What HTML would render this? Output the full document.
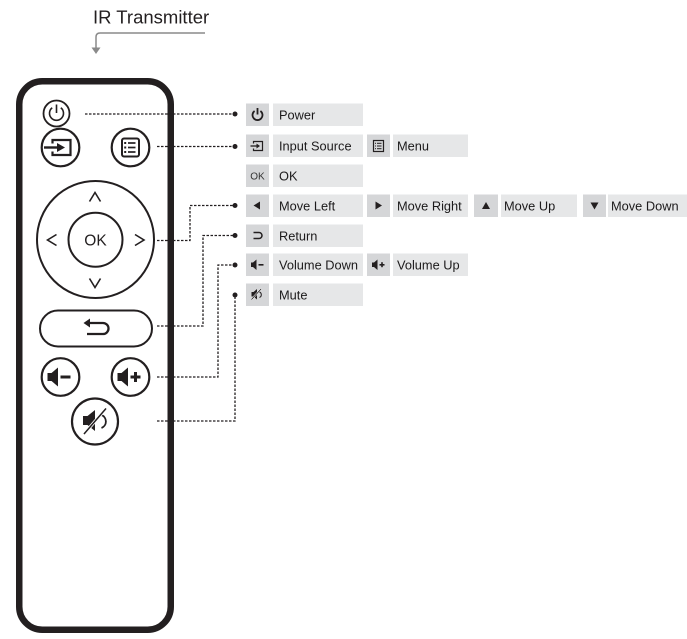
<!DOCTYPE html>
<html>
<head>
<meta charset="utf-8">
<style>
  html,body{margin:0;padding:0;background:#fff;}
  svg{display:block;font-family:"Liberation Sans",Arial,sans-serif;}
  text{font-family:"Liberation Sans",Arial,sans-serif;}
</style>
</head>
<body>
<svg width="687" height="639" viewBox="0 0 687 639" xmlns="http://www.w3.org/2000/svg" font-family="Liberation Sans, Arial, sans-serif">
  <!-- IR Transmitter label -->
  <text x="93" y="23.5" font-size="18.5" fill="#231f20">IR Transmitter</text>
  <path d="M205,33 H100 Q96,33 96,37 V48" fill="none" stroke="#8a8a8a" stroke-width="1.5"/>
  <polygon points="91.5,47.5 100.5,47.5 96,54" fill="#8a8a8a"/>

  <!-- Remote body -->
  <rect x="19.25" y="81.25" width="151.5" height="548.5" rx="23" ry="23" fill="#fff" stroke="#231f20" stroke-width="6.5"/>

  <g stroke="#231f20" fill="none">
    <!-- Power button -->
    <circle cx="56.5" cy="113.5" r="13" stroke-width="1.8"/>
    <path d="M52.2,107.8 A7,7 0 1 0 60.8,107.8" stroke-width="1.6"/>
    <line x1="56.5" y1="104.5" x2="56.5" y2="113" stroke-width="1.6"/>

    <!-- Input button -->
    <circle cx="60.5" cy="147.5" r="18.8" stroke-width="2.2"/>
    <path d="M52.5,143.5 V140 H70.5 V155 H52.5 V151.5" stroke-width="2.2"/>
    <line x1="44" y1="147.5" x2="59" y2="147.5" stroke-width="2.4"/>

    <!-- Menu button -->
    <circle cx="130.5" cy="147.5" r="18.8" stroke-width="2.2"/>
    <rect x="122" y="138.5" width="17" height="18" rx="2" stroke-width="2"/>
    <line x1="128" y1="143" x2="135.5" y2="143" stroke-width="1.7"/>
    <line x1="128" y1="147.5" x2="135.5" y2="147.5" stroke-width="1.7"/>
    <line x1="128" y1="152" x2="135.5" y2="152" stroke-width="1.7"/>

    <!-- D-pad -->
    <circle cx="95.5" cy="239.5" r="58.5" stroke-width="2"/>
    <circle cx="95.5" cy="239.7" r="27" stroke-width="2"/>
    <polyline points="89.5,201.5 95,192.5 100.5,201.5" stroke-width="1.6"/>
    <polyline points="89.5,278.5 95,287.5 100.5,278.5" stroke-width="1.6"/>
    <polyline points="56.5,234.5 47.5,240 56.5,245.5" stroke-width="1.6"/>
    <polyline points="135,234.5 144,240 135,245.5" stroke-width="1.6"/>

    <!-- Return pill -->
    <rect x="40" y="310.5" width="112" height="36" rx="18" ry="18" stroke-width="2"/>
    <path d="M90,323 H103 A5.5,5.5 0 0 1 103,334 H87" stroke-width="2.3"/>

    <!-- Volume buttons -->
    <circle cx="60.5" cy="377" r="18.8" stroke-width="2.2"/>
    <circle cx="130.5" cy="377" r="18.8" stroke-width="2.2"/>
    <!-- Mute -->
    <circle cx="95" cy="421.5" r="23" stroke-width="2.2"/>
    <line x1="84" y1="434" x2="106" y2="408.5" stroke-width="1.6"/>
    <path d="M101.5,415 A7,7 0 0 1 101.5,428" stroke-width="1.8"/>
  </g>
  <g fill="#231f20">
    <polygon points="57,143 65,147.5 57,152"/>
    <rect x="124.2" y="142" width="2" height="2"/>
    <rect x="124.2" y="146.5" width="2" height="2"/>
    <rect x="124.2" y="151" width="2" height="2"/>
    <text x="95.5" y="245.5" font-size="15.5" text-anchor="middle">OK</text>
    <polygon points="83.5,323 90,318.5 90,327.5"/>
    <!-- vol - -->
    <rect x="47.5" y="373" width="4.5" height="8"/>
    <polygon points="51.5,373 58,367.5 58,386.5 51.5,381"/>
    <rect x="60.5" y="375.5" width="10" height="3"/>
    <!-- vol + -->
    <rect x="117.5" y="373" width="4.5" height="8"/>
    <polygon points="121.5,373 128,367.5 128,386.5 121.5,381"/>
    <rect x="130.5" y="375.5" width="10" height="3"/>
    <rect x="134" y="372" width="3" height="10"/>
    <!-- mute speaker -->
    <rect x="83" y="416" width="5" height="9"/>
    <polygon points="87.5,416 95,410 95,431 87.5,425"/>
  </g>
  <line x1="84" y1="434" x2="106" y2="408.5" stroke="#fff" stroke-width="3.2"/>
  <line x1="84" y1="434" x2="106" y2="408.5" stroke="#231f20" stroke-width="1.5"/>

  <!-- Dashed connectors -->
  <g fill="none" stroke="#231f20" stroke-width="1.3" stroke-dasharray="2.5 1.5">
    <path d="M85,114 H235"/>
    <path d="M157,146.5 H235"/>
    <path d="M157,240.5 H190 V205.5 H235"/>
    <path d="M157,326 H203 V235.5 H235"/>
    <path d="M157,377 H218 V265 H235"/>
    <path d="M157,421 H235 V295"/>
  </g>
  <g fill="#231f20">
    <circle cx="235" cy="114" r="2.5"/>
    <circle cx="235" cy="146.5" r="2.5"/>
    <circle cx="235" cy="205.5" r="2.5"/>
    <circle cx="235" cy="235.5" r="2.5"/>
    <circle cx="235" cy="265" r="2.5"/>
    <circle cx="235" cy="295" r="2.5"/>
  </g>

  <!-- Label boxes -->
  <g>
    <rect x="246" y="103.5" width="23" height="22.5" fill="#d5d6d8"/>
    <rect x="273" y="103.5" width="90" height="22.5" fill="#e6e7e8"/>
    <rect x="246" y="134.5" width="23" height="22.5" fill="#d5d6d8"/>
    <rect x="273" y="134.5" width="90" height="22.5" fill="#e6e7e8"/>
    <rect x="367" y="134.5" width="23" height="22.5" fill="#d5d6d8"/>
    <rect x="393" y="134.5" width="75" height="22.5" fill="#e6e7e8"/>
    <rect x="246" y="164.5" width="23" height="22.5" fill="#d5d6d8"/>
    <rect x="273" y="164.5" width="90" height="22.5" fill="#e6e7e8"/>
    <rect x="246" y="194.5" width="23" height="22.5" fill="#d5d6d8"/>
    <rect x="273" y="194.5" width="90" height="22.5" fill="#e6e7e8"/>
    <rect x="367" y="194.5" width="23" height="22.5" fill="#d5d6d8"/>
    <rect x="393" y="194.5" width="75" height="22.5" fill="#e6e7e8"/>
    <rect x="474" y="194.5" width="24" height="22.5" fill="#d5d6d8"/>
    <rect x="501" y="194.5" width="76" height="22.5" fill="#e6e7e8"/>
    <rect x="583" y="194.5" width="23" height="22.5" fill="#d5d6d8"/>
    <rect x="608" y="194.5" width="79" height="22.5" fill="#e6e7e8"/>
    <rect x="246" y="224.5" width="23" height="22.5" fill="#d5d6d8"/>
    <rect x="273" y="224.5" width="90" height="22.5" fill="#e6e7e8"/>
    <rect x="246" y="253.5" width="23" height="22.5" fill="#d5d6d8"/>
    <rect x="273" y="253.5" width="90" height="22.5" fill="#e6e7e8"/>
    <rect x="367" y="253.5" width="23" height="22.5" fill="#d5d6d8"/>
    <rect x="393" y="253.5" width="75" height="22.5" fill="#e6e7e8"/>
    <rect x="246" y="283.5" width="23" height="22.5" fill="#d5d6d8"/>
    <rect x="273" y="283.5" width="90" height="22.5" fill="#e6e7e8"/>
  </g>

  <!-- Label texts -->
  <g font-size="12.8" fill="#1c1a1b">
    <text x="279" y="119.5">Power</text>
    <text x="279" y="150.5">Input Source</text>
    <text x="397" y="150.5">Menu</text>
    <text x="279" y="180.5">OK</text>
    <text x="279" y="210.5">Move Left</text>
    <text x="397" y="210.5">Move Right</text>
    <text x="504" y="210.5">Move Up</text>
    <text x="611" y="210.5">Move Down</text>
    <text x="279" y="240.5">Return</text>
    <text x="279" y="269.5">Volume Down</text>
    <text x="397" y="269.5">Volume Up</text>
    <text x="279" y="299.5">Mute</text>
  </g>

  <!-- Label icons -->
  <g stroke="#231f20" fill="none">
    <path d="M254.6,111 A5,5 0 1 0 260.4,111" stroke-width="1.8"/>
    <line x1="257.5" y1="108" x2="257.5" y2="114.5" stroke-width="1.8"/>
    <path d="M253.5,143.5 V141.5 H262.5 V150.5 H253.5 V148.5" stroke-width="1.2"/>
    <line x1="250.5" y1="146" x2="257" y2="146" stroke-width="1.3"/>
    <rect x="373.5" y="140.5" width="10" height="11" stroke-width="1.2"/>
    <line x1="377" y1="143.3" x2="381.5" y2="143.3" stroke-width="1"/>
    <line x1="377" y1="146" x2="381.5" y2="146" stroke-width="1"/>
    <line x1="377" y1="148.7" x2="381.5" y2="148.7" stroke-width="1"/>
    <path d="M253.5,232.5 H259 A3,3 0 0 1 259,238.5 H253.5" stroke-width="1.5"/>
  </g>
  <g fill="#231f20">
    <polygon points="256.5,143.5 260,146 256.5,148.5"/>
    <rect x="375" y="142.8" width="1" height="1"/>
    <rect x="375" y="145.5" width="1" height="1"/>
    <rect x="375" y="148.2" width="1" height="1"/>
    <text x="257.5" y="179.5" font-size="10" fill="#333" text-anchor="middle">OK</text>
    <polygon points="253.5,205.5 260,201.5 260,209.5"/>
    <polygon points="382,205.5 375.5,201.5 375.5,209.5"/>
    <polygon points="486,202 482,209 490,209"/>
    <polygon points="594.5,209.5 590.5,202.5 598.5,202.5"/>
    <rect x="251" y="262.5" width="2.5" height="4.5"/>
    <polygon points="253,262.5 256.5,259.5 256.5,270 253,267"/>
    <rect x="258.5" y="264" width="5" height="1.6"/>
    <rect x="372" y="262.5" width="2.5" height="4.5"/>
    <polygon points="374,262.5 377.5,259.5 377.5,270 374,267"/>
    <rect x="379.5" y="264" width="5" height="1.6"/>
    <rect x="381.2" y="262.2" width="1.6" height="5"/>
    <rect x="251.5" y="292" width="2.5" height="4.5"/>
    <polygon points="253.5,292 257,289 257,299.5 253.5,296.5"/>
  </g>
  <line x1="251.5" y1="299.5" x2="261" y2="289" stroke="#fff" stroke-width="1.8"/>
  <line x1="251.5" y1="299.5" x2="261" y2="289" stroke="#231f20" stroke-width="0.9"/>
  <path d="M259.5,292 A3,3 0 0 1 259.5,297.5" fill="none" stroke="#231f20" stroke-width="1"/>
</svg>
</body>
</html>
